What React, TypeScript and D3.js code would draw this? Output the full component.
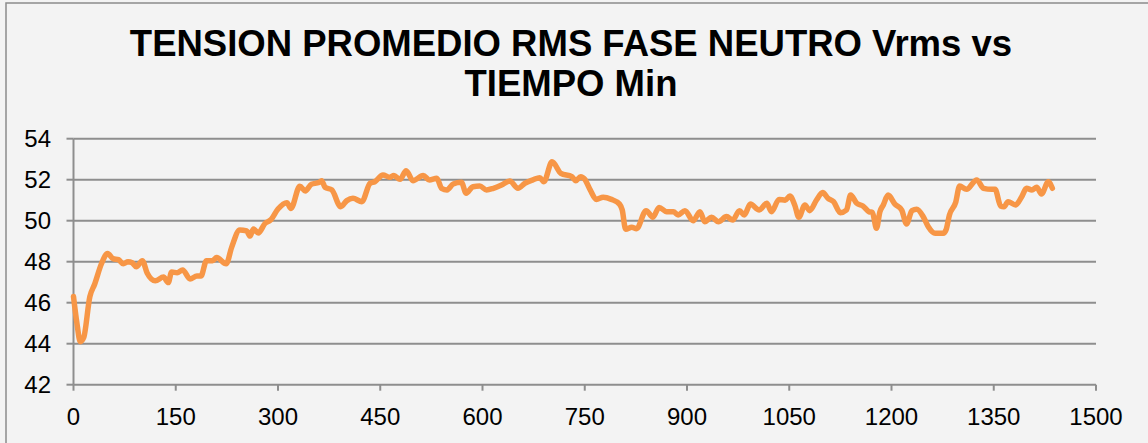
import React from "react";
import * as d3 from "d3";

const titleLines = ["TENSION PROMEDIO RMS FASE NEUTRO Vrms vs", "TIEMPO Min"];
const xTicks = [0, 150, 300, 450, 600, 750, 900, 1050, 1200, 1350, 1500];
const yTicks = [42, 44, 46, 48, 50, 52, 54];

const minutes = [
  0, 5, 10, 15, 24, 31, 41, 50, 58, 66, 73, 80, 86, 92, 101, 108, 120, 132, 139, 144,
  152, 160, 171, 181, 187, 195, 204, 210, 224, 232, 244, 254, 259, 264, 271, 281, 289, 300, 313, 319,
  332, 340, 349, 360, 364, 369, 379, 392, 401, 410, 423, 435, 442, 454, 464, 470, 479, 488, 498, 513,
  522, 533, 540, 548, 557, 569, 576, 586, 596, 606, 616, 628, 640, 652, 662, 674, 684, 690, 702, 715,
  731, 737, 744, 750, 758, 767, 777, 789, 801, 805, 810, 819, 826, 840, 850, 859, 870, 880, 887, 897,
  909, 919, 926, 936, 946, 958, 967, 977, 984, 993, 1006, 1017, 1024, 1035, 1044, 1051, 1058, 1064, 1073, 1080,
  1090, 1099, 1107, 1115, 1125, 1134, 1140, 1149, 1158, 1167, 1172, 1178, 1183, 1188, 1195, 1205, 1215, 1222, 1230, 1237,
  1247, 1254, 1264, 1276, 1280, 1285, 1294, 1300, 1310, 1325, 1335, 1347, 1352, 1360, 1365, 1371, 1382, 1391, 1398, 1406,
  1413, 1420, 1430, 1436,
];
const vrms = [
  46.3, 45.0, 44.1, 44.3, 46.3, 46.9, 47.9, 48.4, 48.15, 48.1, 47.9, 48.0, 47.95, 47.75, 48.05, 47.45, 47.07, 47.25, 46.98, 47.5,
  47.46, 47.6, 47.16, 47.3, 47.3, 48.05, 48.05, 48.2, 47.9, 48.7, 49.55, 49.5, 49.25, 49.6, 49.4, 49.87, 50.03, 50.57, 50.88, 50.6,
  51.68, 51.45, 51.78, 51.86, 51.95, 51.63, 51.5, 50.68, 50.98, 51.09, 50.93, 51.82, 51.9, 52.23, 52.12, 52.2, 52.02, 52.44, 51.95, 52.2,
  51.99, 52.07, 51.58, 51.5, 51.79, 51.87, 51.34, 51.66, 51.69, 51.5, 51.58, 51.74, 51.94, 51.58, 51.82, 51.99, 52.1, 51.9, 52.87, 52.31,
  52.15, 51.95, 52.15, 52.02, 51.5, 51.04, 51.14, 51.04, 50.81, 50.52, 49.58, 49.68, 49.61, 50.49, 50.17, 50.65, 50.44, 50.44, 50.28, 50.49,
  50.0, 50.44, 49.95, 50.17, 49.95, 50.2, 50.03, 50.49, 50.28, 50.81, 50.52, 50.85, 50.44, 51.04, 51.0, 51.2, 50.77, 50.17, 50.77, 50.49,
  51.01, 51.37, 51.09, 50.93, 50.39, 50.52, 51.25, 50.85, 50.72, 50.44, 50.4, 49.63, 50.44, 50.77, 51.25, 50.81, 50.52, 49.84, 50.49, 50.56,
  50.17, 49.71, 49.39, 49.39, 49.55, 50.28, 50.88, 51.69, 51.53, 51.99, 51.58, 51.53, 51.53, 50.72, 50.68, 50.93, 50.77, 51.17, 51.58, 51.5,
  51.63, 51.3, 51.9, 51.58,
];

const W = 1148;
const H = 443;
const left = 73.5;
const right = 1096;
const top = 138.7;
const bottom = 384.7;
const font = "'Liberation Sans', Arial, sans-serif";
const gridColor = "#8e8e8e";

export default function App() {
  const x = d3.scaleLinear().domain([0, 1500]).range([left, right]);
  const y = d3.scaleLinear().domain([42, 54]).range([bottom, top]);
  const data = minutes.map((m, i) => [m, vrms[i]] as [number, number]);
  const line = d3
    .line<[number, number]>()
    .x((d) => x(d[0]))
    .y((d) => y(d[1]))
    .curve(d3.curveMonotoneX);

  return (
    <svg
      width={W}
      height={H}
      style={{ position: "absolute", left: 0, top: 0, display: "block" }}
      xmlns="http://www.w3.org/2000/svg"
    >
      <rect x={0} y={0} width={W} height={H} fill="#f3f3f3" />
      <rect x={6} y={3} width={W + 20} height={H + 20} fill="#f3f3f3" stroke="#8c8c8c" strokeWidth={1.5} />
      {titleLines.map((t, i) => (
        <text
          key={i}
          x={571}
          y={55.5 + i * 40.5}
          textAnchor="middle"
          fontFamily={font}
          fontWeight="bold"
          fontSize={36.5}
          fill="#000"
        >
          {t}
        </text>
      ))}
      {yTicks.map((t) => (
        <g key={"y" + t}>
          <line x1={left} x2={right} y1={y(t)} y2={y(t)} stroke={gridColor} strokeWidth={2} />
          <line x1={left - 7} x2={left} y1={y(t)} y2={y(t)} stroke={gridColor} strokeWidth={2} />
          <text
            x={51}
            y={y(t) + 8.5}
            textAnchor="end"
            fontFamily={font}
            fontSize={24}
            fill="#000"
          >
            {t}
          </text>
        </g>
      ))}
      <line x1={left} x2={left} y1={top} y2={bottom} stroke={gridColor} strokeWidth={2} />
      {xTicks.map((t) => (
        <g key={"x" + t}>
          <line x1={x(t)} x2={x(t)} y1={bottom} y2={bottom + 6} stroke={gridColor} strokeWidth={2} />
          <text
            x={x(t)}
            y={424.5}
            textAnchor="middle"
            fontFamily={font}
            fontSize={24}
            fill="#000"
          >
            {t}
          </text>
        </g>
      ))}
      <path
        d={line(data) || ""}
        fill="none"
        stroke="#f79646"
        strokeWidth={5.5}
        strokeLinejoin="round"
        strokeLinecap="round"
      />
    </svg>
  );
}
